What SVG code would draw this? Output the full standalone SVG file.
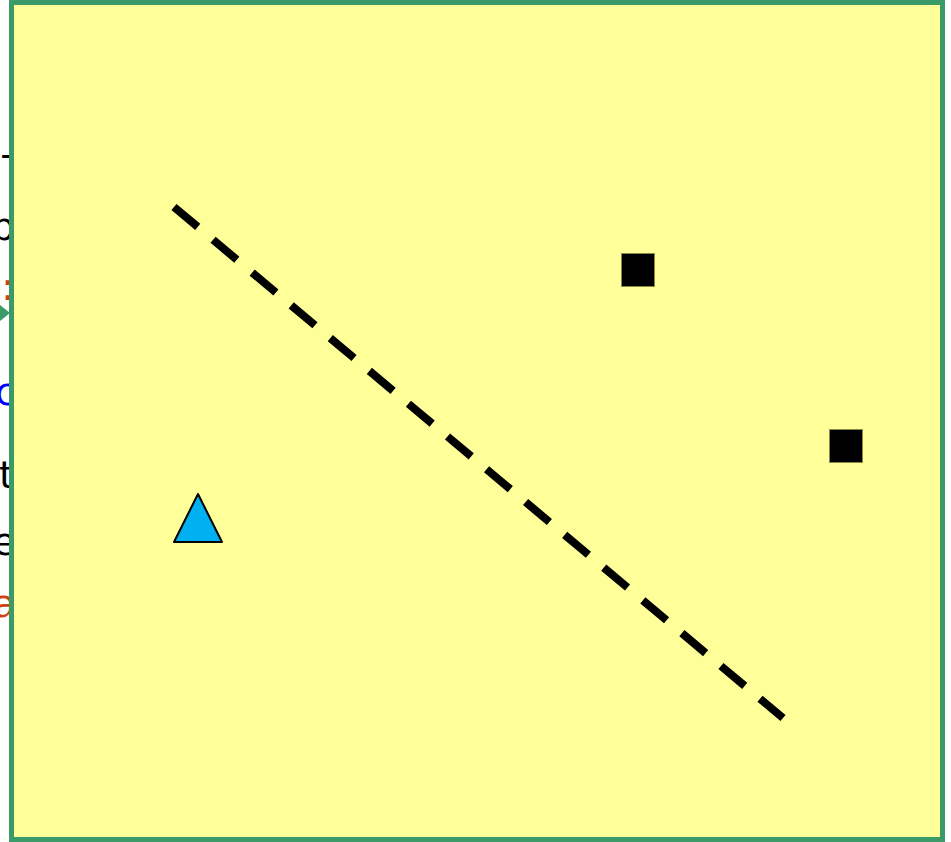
<svg xmlns="http://www.w3.org/2000/svg" width="951" height="842" viewBox="0 0 951 842">
<style>
.frag{font-family:"DejaVu Sans","Liberation Sans",sans-serif;font-size:38px;text-anchor:end}
.sq{fill:#000;stroke:#8a8a40;stroke-width:1}
</style>
<rect width="951" height="842" fill="#fff"/>
<g id="left-text">
<text class="frag" x="14" y="167" fill="#000">-</text>
<text class="frag" x="15" y="240" fill="#000">p</text>
<text class="frag" x="14" y="300" fill="#d04010">:</text>
<polygon points="0,305 10,313 0,321" fill="#3a9a68"/>
<text class="frag" x="16" y="405" fill="#0000ff">c</text>
<text class="frag" x="14" y="488" fill="#000">t</text>
<text class="frag" x="16" y="555" fill="#000">e</text>
<text class="frag" x="16" y="617" fill="#d04010">a</text>
</g>
<g id="frame">
<rect x="11.5" y="2.5" width="931" height="837" fill="#ffff99" stroke="#3a9a68" stroke-width="5"/>
</g>
<g id="connectors">
<line x1="174" y1="207" x2="783" y2="718" stroke="#000" stroke-width="8" stroke-dasharray="31 20"/>
</g>
<g id="triangle">
<polygon points="198,494 174,542 222,542" fill="#00b0f0" stroke="#000" stroke-width="2" stroke-linejoin="round"/>
</g>
<g id="square1">
<rect class="sq" x="621.5" y="253.5" width="33" height="33"/>
</g>
<g id="square2">
<rect class="sq" x="829.5" y="429.5" width="33" height="33"/>
</g>
</svg>
